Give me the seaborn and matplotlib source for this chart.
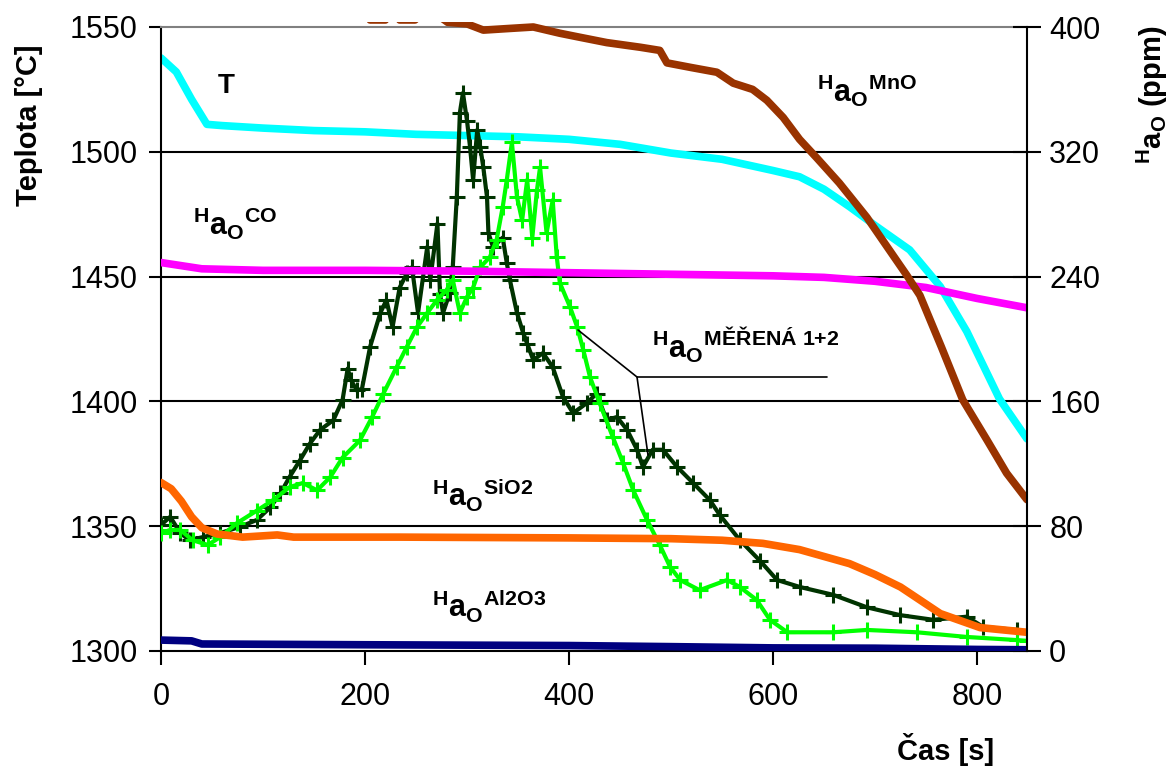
import numpy as np
import pandas as pd
import matplotlib
matplotlib.use("Agg")
import matplotlib.pyplot as plt
from matplotlib.lines import Line2D
from matplotlib.patches import Rectangle
import seaborn as sns

# ---------------- data ----------------
time_T = [0, 15, 30, 45, 60, 100, 150, 200, 250, 300, 350, 400, 450, 500, 550,
          600, 626, 650, 675, 700, 734, 764, 790, 822, 849]
temp_T = [1537.6, 1532, 1521, 1511, 1510.5, 1509.5, 1508.5, 1508, 1507, 1506.5,
          1506, 1505, 1503, 1499.5, 1497, 1492.5, 1490, 1485, 1478, 1470.5,
          1460.7, 1446, 1428, 1401, 1385]

time_mno = [200, 205, 220, 227, 234, 249, 262, 281, 300, 316, 340, 365, 391, 410, 437,
            470, 489, 496, 520, 545, 561, 580, 594, 610, 626, 643, 665, 692, 712,
            731, 744, 765, 786, 810, 829, 849]
ao_mno = [412, 404.5, 404.5, 412, 404.5, 404.5, 412, 403, 402, 398, 399, 400, 396,
          393.5, 390, 387, 385, 377, 374, 371, 364, 360, 353, 342, 328, 316, 300,
          278, 259, 241, 228, 195, 161, 135, 114, 97]

time_co = [0, 40, 100, 200, 300, 400, 500, 600, 650, 700, 750, 800, 849]
ao_co = [249, 245, 244, 244, 243.5, 242.5, 241.5, 240.5, 239.5, 237, 233, 226, 220]

time_sio2 = [0, 10, 20, 30, 40, 55, 80, 114, 130, 234, 300, 400, 500, 550, 590,
             626, 675, 700, 725, 764, 803, 849]
ao_sio2 = [108, 104, 96, 86, 79, 75, 73, 74.4, 73, 73, 72.8, 72.5, 72, 71, 69,
           65, 56, 49, 41, 24, 15, 12]

time_al2o3 = [0, 30, 40, 200, 400, 500, 600, 700, 800, 849]
ao_al2o3 = [7, 6.5, 4.5, 4, 3.5, 2.8, 2, 1.8, 1, 0.8]

time_m1 = [0, 9, 19, 28, 41, 58, 77, 94, 107, 117, 126, 136, 146, 156, 169, 178,
           183, 186, 192, 197, 205, 215, 221, 227, 234, 241, 246, 252, 261, 264,
           271, 273.5, 276.5, 283, 286, 290, 293, 296, 300, 303, 306, 310, 313,
           316, 319.6, 321, 325.5, 335, 339, 342, 349, 355, 359, 365, 374.5, 384,
           394, 404, 417.6, 427, 437, 447, 457, 466.7, 472.5, 482, 492, 506,
           521.6, 538, 548, 567.6, 587, 604, 626.5, 659, 692, 724.5, 757, 790,
           806, 839, 849]
ao_m1 = [80.8, 86, 75.6, 71, 73, 75.6, 79.5, 84, 92, 101, 111.5, 122, 133, 141.7,
         148, 161, 181, 174, 167, 168, 195, 216.7, 225, 207.7, 233, 242, 246,
         216.7, 259, 238, 274, 229, 216.7, 229.5, 246, 291, 345, 357.7, 340, 323,
         302, 334, 323, 310, 291, 268, 259, 265, 248.7, 238, 216.7, 204, 197,
         186.5, 191, 182, 163, 152.5, 159, 165, 148, 150, 141.7, 129, 118, 129,
         129, 118, 107.7, 96.8, 87, 71, 58, 45.5, 41, 36, 28, 23, 20, 22, 15.4,
         13.5, 12]

time_m2 = [0, 9, 19, 31, 46, 58, 74.5, 94, 110, 126, 139, 153, 166, 178, 195, 207,
           218, 231, 241, 251, 261, 270.6, 280, 286, 293, 300, 306, 313, 322.5,
           329, 335, 339, 344, 349, 354, 359, 364, 368.6, 371.6, 378, 384, 388,
           391, 401, 408, 414, 420.6, 430, 443, 453, 463, 476.5, 489, 499, 509,
           528, 555, 567.6, 584, 597, 614, 659, 692, 741, 790, 839, 849]
ao_m2 = [75.6, 77.6, 77.6, 71, 68, 73, 82, 90, 96.8, 105, 107.7, 103, 111.5, 124,
         135, 150, 165, 182, 195, 207.7, 216.7, 225, 231.4, 238, 216.7, 227, 233,
         246, 252.6, 263.5, 284.6, 302, 326, 291, 276, 302, 265, 295.5, 310, 268,
         289, 252.6, 236, 220.5, 207.7, 193, 175.6, 159, 137, 120.5, 103, 84, 68,
         54, 45.5, 39, 45.5, 41, 32.7, 20, 12, 12, 13.5, 12, 9, 7, 6.5]

x_ticks = [0, 200, 400, 600, 800]
t_ticks = [1300, 1350, 1400, 1450, 1500, 1550]
ppm_ticks = [0, 80, 160, 240, 320, 400]

# ---------------- style ----------------
sns.set_theme(style="white")
plt.rcParams["font.family"] = ["Liberation Sans", "DejaVu Sans"]
plt.rcParams["mathtext.fontset"] = "custom"
plt.rcParams["mathtext.rm"] = "Liberation Sans"
plt.rcParams["mathtext.bf"] = "Liberation Sans:bold"
plt.rcParams["mathtext.it"] = "Liberation Sans:italic"
plt.rcParams["mathtext.sf"] = "Liberation Sans"
for key in ["text.color", "axes.labelcolor", "xtick.color", "ytick.color"]:
    plt.rcParams[key] = "black"

W, H = 1173, 767
fig = plt.figure(figsize=(W / 100, H / 100), dpi=100)
fig.patch.set_facecolor("white")
ax = fig.add_axes([161 / W, 1 - 651 / H, (1027 - 161) / W, 624 / H])
ax.set_facecolor("white")
ax2 = ax.twinx()

for t in t_ticks[1:-1]:
    ax.axhline(t, color="black", lw=1.5, zorder=0.5)

sns.lineplot(x=time_T, y=temp_T, ax=ax, color="#00FFFF", lw=5.5,
             estimator=None, sort=False, legend=False)

sns.lineplot(x=time_m1, y=ao_m1, ax=ax2, color="#003300", lw=3, marker="+",
             markersize=12, markeredgewidth=2.2, markeredgecolor="#003300",
             estimator=None, sort=False, legend=False)
sns.lineplot(x=time_m2, y=ao_m2, ax=ax2, color="#00FF00", lw=3, marker="+",
             markersize=12, markeredgewidth=2.2, markeredgecolor="#00FF00",
             estimator=None, sort=False, legend=False)
sns.lineplot(x=time_co, y=ao_co, ax=ax2, color="#FF00FF", lw=5.5,
             estimator=None, sort=False, legend=False)
sns.lineplot(x=time_sio2, y=ao_sio2, ax=ax2, color="#FF6600", lw=5.5,
             estimator=None, sort=False, legend=False)
sns.lineplot(x=time_al2o3, y=ao_al2o3, ax=ax2, color="#000080", lw=5.5,
             estimator=None, sort=False, legend=False)
sns.lineplot(x=time_mno, y=ao_mno, ax=ax2, color="#993300", lw=5.5,
             estimator=None, sort=False, legend=False)
clip = Rectangle((0, 0), 1, 1 + 5 / 624, transform=ax2.transAxes,
                 facecolor="none", edgecolor="none")
ax2.lines[-1].set_clip_path(clip)

ax.set_xlim(0, 849)
ax.set_ylim(1300, 1550)
ax2.set_ylim(0, 400)
ax.set_xticks(x_ticks)
ax.set_yticks(t_ticks)
ax2.set_yticks(ppm_ticks)
ax.set_xlabel("")
ax.set_ylabel("")
ax2.set_ylabel("")

ax.tick_params(axis="x", direction="out", length=10, width=1.5, labelsize=22,
               pad=12, bottom=True, colors="black")
ax.tick_params(axis="y", direction="out", length=9, width=1.5, labelsize=22,
               pad=8, left=True, colors="black")
ax2.tick_params(axis="y", direction="inout", length=20, width=1.5, labelsize=22,
                pad=6, right=True, colors="black")

for name, sp in ax.spines.items():
    sp.set_linewidth(1.5)
    sp.set_color("black")
ax.spines["right"].set_visible(False)
ax.spines["top"].set_color("#808080")
for name, sp in ax2.spines.items():
    sp.set_visible(name == "right")
    sp.set_color("black")
    sp.set_linewidth(1.5)


def fx(px):
    return px / W


def fy(py):
    return 1 - py / H


def ao_label(sup):
    return r"${}^{\mathbf{H}}\mathbf{a}_{\mathbf{O}}{}^{\mathbf{" + sup + r"}}$"


fig.text(fx(218), fy(93), "T", fontsize=20, fontweight="bold", ha="left",
         va="baseline")
fig.text(fx(193), fy(235), ao_label("CO"), fontsize=22, ha="left", va="baseline")
fig.text(fx(817), fy(102), ao_label("MnO"), fontsize=22, ha="left", va="baseline")
fig.text(fx(432), fy(507), ao_label("SiO2"), fontsize=22, ha="left", va="baseline")
fig.text(fx(432), fy(618), ao_label("Al2O3"), fontsize=22, ha="left", va="baseline")
fig.text(fx(652), fy(358), ao_label(r"MĚŘENÁ\ 1{+}2"),
         fontsize=22, ha="left", va="baseline")

for xs, ys in [([578, 637, 827], [330, 377, 377]), ([637, 648], [377, 455])]:
    fig.add_artist(Line2D([fx(v) for v in xs], [fy(v) for v in ys],
                          color="black", lw=1.2))

fig.text(fx(29), fy(125), "Teplota [°C]", rotation=90, fontsize=21,
         fontweight="bold", ha="center", va="center")
fig.text(fx(1152), fy(95), r"${}^{\mathbf{H}}\mathbf{a}_{\mathbf{O}}\ \mathbf{(ppm)}$",
         rotation=90, fontsize=21, ha="center", va="center")
fig.text(fx(946), fy(750), "Čas [s]", fontsize=21, fontweight="bold",
         ha="center", va="center")

fig.savefig("out.png", dpi=100, facecolor="white")
